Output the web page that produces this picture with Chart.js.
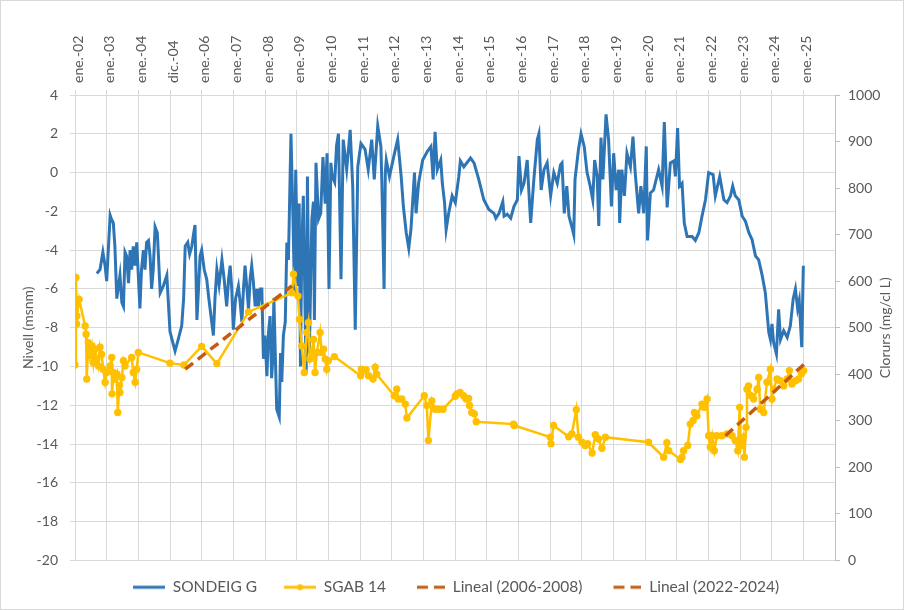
<!DOCTYPE html>
<html>
<head>
<meta charset="utf-8">
<script src="https://cdn.jsdelivr.net/npm/chart.js@4.4.1/dist/chart.umd.min.js"></script>
<style>
  body { margin: 0; background: #fff; }
  #wrap { width: 904px; height: 610px; }
</style>
</head>
<body>
<div id="wrap"><canvas id="nivells" width="904" height="610"></canvas></div>
<script>
// etiquetes de l'eix superior (una per any)
const tickYears = [2002, 2003, 2004, 2005, 2006, 2007, 2008, 2009, 2010, 2011, 2012, 2013,
  2014, 2015, 2016, 2017, 2018, 2019, 2020, 2021, 2022, 2023, 2024, 2025];
const tickLabels = ["ene.-02", "ene.-03", "ene.-04", "dic.-04", "ene.-06", "ene.-07", "ene.-08",
  "ene.-09", "ene.-10", "ene.-11", "ene.-12", "ene.-13", "ene.-14", "ene.-15", "ene.-16",
  "ene.-17", "ene.-18", "ene.-19", "ene.-20", "ene.-21", "ene.-22", "ene.-23", "ene.-24", "ene.-25"];

// SONDEIG G - nivell (msnm), data en anys decimals
const sondeigDates = [2002.69, 2002.79, 2002.88, 2002.95, 2003.00, 2003.11, 2003.15, 2003.21, 2003.26, 2003.32,
  2003.42, 2003.48, 2003.53, 2003.58, 2003.63, 2003.69, 2003.74, 2003.79, 2003.84, 2003.90,
  2003.95, 2004.02, 2004.05, 2004.10, 2004.16, 2004.21, 2004.26, 2004.32, 2004.37, 2004.42,
  2004.47, 2004.53, 2004.60, 2004.69, 2004.79, 2004.90, 2005.00, 2005.11, 2005.16, 2005.26,
  2005.37, 2005.43, 2005.48, 2005.56, 2005.62, 2005.69, 2005.74, 2005.79, 2005.85, 2005.90,
  2005.95, 2006.00, 2006.08, 2006.16, 2006.22, 2006.28, 2006.37, 2006.42, 2006.48, 2006.55,
  2006.64, 2006.71, 2006.79, 2006.85, 2006.90, 2006.95, 2007.00, 2007.07, 2007.16, 2007.21,
  2007.27, 2007.32, 2007.37, 2007.42, 2007.48, 2007.53, 2007.58, 2007.63, 2007.69, 2007.75,
  2007.79, 2007.85, 2007.90, 2007.95, 2008.00, 2008.06, 2008.11, 2008.16, 2008.21, 2008.25,
  2008.28, 2008.37, 2008.45, 2008.49, 2008.53, 2008.58, 2008.64, 2008.69, 2008.74, 2008.82,
  2008.88, 2008.93, 2008.97, 2009.04, 2009.08, 2009.12, 2009.16, 2009.21, 2009.27, 2009.30,
  2009.34, 2009.40, 2009.48, 2009.53, 2009.56, 2009.61, 2009.69, 2009.76, 2009.83, 2009.90,
  2009.96, 2010.02, 2010.08, 2010.12, 2010.20, 2010.26, 2010.32, 2010.40, 2010.47, 2010.54,
  2010.58, 2010.69, 2010.77, 2010.85, 2010.93, 2011.03, 2011.16, 2011.26, 2011.37, 2011.45,
  2011.56, 2011.66, 2011.69, 2011.76, 2011.80, 2011.83, 2011.93, 2012.09, 2012.19, 2012.30,
  2012.37, 2012.46, 2012.54, 2012.61, 2012.72, 2012.77, 2012.85, 2012.98, 2013.13, 2013.24,
  2013.31, 2013.37, 2013.44, 2013.55, 2013.60, 2013.67, 2013.72, 2013.80, 2013.91, 2014.01,
  2014.12, 2014.17, 2014.28, 2014.49, 2014.60, 2014.75, 2014.91, 2015.07, 2015.23, 2015.29,
  2015.39, 2015.51, 2015.55, 2015.65, 2015.76, 2015.86, 2015.97, 2016.02, 2016.10, 2016.18,
  2016.28, 2016.33, 2016.39, 2016.49, 2016.60, 2016.65, 2016.72, 2016.81, 2016.91, 2017.02,
  2017.12, 2017.23, 2017.33, 2017.38, 2017.45, 2017.53, 2017.60, 2017.69, 2017.75, 2017.79,
  2017.90, 2017.98, 2018.08, 2018.17, 2018.27, 2018.35, 2018.41, 2018.49, 2018.54, 2018.61,
  2018.67, 2018.77, 2018.85, 2018.94, 2019.01, 2019.09, 2019.17, 2019.20, 2019.27, 2019.35,
  2019.43, 2019.54, 2019.62, 2019.69, 2019.80, 2019.87, 2019.96, 2020.04, 2020.08, 2020.17,
  2020.27, 2020.43, 2020.54, 2020.61, 2020.70, 2020.80, 2020.91, 2020.96, 2021.03, 2021.09,
  2021.17, 2021.24, 2021.33, 2021.49, 2021.59, 2021.70, 2021.80, 2021.91, 2022.01, 2022.15,
  2022.22, 2022.36, 2022.49, 2022.59, 2022.70, 2022.77, 2022.85, 2022.96, 2023.07, 2023.17,
  2023.28, 2023.38, 2023.49, 2023.59, 2023.70, 2023.80, 2023.91, 2023.96, 2024.01, 2024.06,
  2024.15, 2024.22, 2024.28, 2024.38, 2024.49, 2024.59, 2024.68, 2024.75, 2024.82, 2024.87,
  2024.95, 2025.00];
const sondeigNivell = [-5.2, -5.0, -4.1, -4.8, -5.6, -2.2, -2.4, -2.6, -3.8, -6.5,
  -5.3, -6.7, -6.9, -4.1, -4.3, -5.7, -4.0, -5.0, -3.8, -4.8,
  -3.6, -6.0, -7.0, -5.0, -4.0, -5.0, -3.6, -3.5, -4.3, -6.0,
  -5.0, -2.8, -3.1, -6.2, -5.85, -5.3, -8.2, -8.9, -9.2, -8.6,
  -7.9, -6.5, -3.8, -3.6, -4.2, -3.8, -3.2, -2.7, -7.6, -6.0,
  -4.3, -4.0, -5.0, -5.5, -6.4, -7.2, -8.4, -6.5, -5.0, -5.8,
  -4.5, -5.5, -6.9, -5.5, -4.8, -6.0, -8.1, -6.5, -5.85, -6.6,
  -7.7, -6.0, -4.8, -5.8, -7.05, -5.5, -4.8, -5.6, -6.9, -6.0,
  -6.9, -6.0, -6.0, -9.6, -8.4, -10.5, -8.25, -7.4, -10.6, -9.45,
  -6.5, -12.2, -12.6, -9.3, -10.8, -8.4, -7.7, -3.6, -4.5, 2.0,
  -2.1, -6.2, 0.15, -5.85, -1.6, -10.0, -4.1, -1.2, -7.6, -10.3,
  -0.2, -9.3, -2.4, -1.5, -7.6, 0.5, -2.4, -2.1, 0.8, -1.6,
  1.0, -6.0, 0.5, -0.2, -0.5, 1.4, 2.0, -5.5, 1.7, 0.7,
  0.15, 2.2, -0.7, -8.1, 0.3, 1.5, 1.2, 0.15, 1.7, -0.35,
  2.4, 1.35, -0.5, -6.0, 0.0, 0.65, -0.2, 1.0, 1.7, -0.2,
  -1.75, -3.1, -3.9, -2.9, 0.0, -2.1, -0.55, 0.65, 1.1, 1.35,
  -0.35, 2.1, 0.15, 0.65, -0.55, -1.55, -2.95, -2.1, -1.2, -1.55,
  -0.2, 0.6, 0.3, 0.75, 0.5, -0.35, -1.4, -1.9, -2.1, -2.35,
  -2.1, -1.5, -2.25, -2.15, -2.35, -1.75, -1.4, 0.85, -0.9, -0.55,
  0.65, -0.9, -2.6, -0.35, 1.7, 2.0, -0.9, 0.15, 0.5, -1.2,
  0.0, -0.55, 0.4, 0.5, -2.1, -0.7, -2.25, -2.8, -3.2, -0.35,
  1.2, 2.0, 1.35, 0.0, -0.7, -1.4, 0.65, -0.2, -2.75, 1.8,
  -0.35, 3.0, 1.7, -1.75, 1.0, -0.9, 0.15, -2.6, 0.15, -1.2,
  1.0, 0.3, 1.85, 0.0, -2.1, -0.7, -2.1, 1.35, -3.5, -1.05,
  -0.9, 0.15, -0.7, 2.6, -1.8, 0.5, 0.6, -0.2, 2.3, -0.7,
  -0.55, -2.6, -3.3, -3.3, -3.5, -3.1, -2.25, -1.4, 0.0, -0.1,
  -1.2, -0.2, -1.4, -1.55, -1.2, -0.7, -1.2, -1.4, -2.25, -2.5,
  -3.1, -3.45, -4.3, -4.5, -5.3, -6.2, -8.25, -8.6, -7.8, -8.75,
  -9.35, -7.05, -8.6, -8.15, -8.5, -7.9, -6.5, -6.0, -7.0, -6.6,
  -9.0, -4.8];

// SGAB 14 - clorurs (mg/l)
const sgabDates = [2002.00, 2002.03, 2002.05, 2002.06, 2002.13, 2002.32, 2002.35, 2002.37, 2002.42, 2002.47,
  2002.53, 2002.58, 2002.63, 2002.69, 2002.74, 2002.79, 2002.84, 2002.89, 2002.95, 2003.00,
  2003.11, 2003.16, 2003.17, 2003.21, 2003.26, 2003.32, 2003.35, 2003.40, 2003.42, 2003.48,
  2003.53, 2003.58, 2003.79, 2003.84, 2003.90, 2003.95, 2004.00, 2005.00, 2005.44, 2006.00,
  2006.48, 2007.48, 2008.85, 2008.90, 2009.04, 2009.09, 2009.16, 2009.24, 2009.32, 2009.37,
  2009.42, 2009.48, 2009.53, 2009.58, 2009.64, 2009.74, 2009.79, 2009.85, 2009.90, 2009.95,
  2010.00, 2010.19, 2011.02, 2011.04, 2011.11, 2011.19, 2011.27, 2011.41, 2011.48, 2011.53,
  2012.08, 2012.16, 2012.21, 2012.32, 2012.43, 2012.48, 2013.03, 2013.11, 2013.16, 2013.27,
  2013.37, 2013.48, 2013.62, 2014.01, 2014.06, 2014.16, 2014.27, 2014.35, 2014.43, 2014.46,
  2014.53, 2014.61, 2014.67, 2015.85, 2015.87, 2017.01, 2017.03, 2017.11, 2017.59, 2017.69,
  2017.83, 2017.90, 2018.01, 2018.11, 2018.19, 2018.33, 2018.43, 2018.53, 2018.64, 2018.75,
  2020.11, 2020.59, 2020.69, 2020.75, 2021.12, 2021.17, 2021.22, 2021.35, 2021.43, 2021.52,
  2021.56, 2021.64, 2021.80, 2021.87, 2021.96, 2022.01, 2022.06, 2022.12, 2022.19, 2022.27,
  2022.43, 2022.59, 2022.75, 2022.85, 2022.93, 2022.99, 2023.03, 2023.10, 2023.14, 2023.19,
  2023.22, 2023.27, 2023.35, 2023.43, 2023.54, 2023.59, 2023.64, 2023.75, 2023.85, 2023.96,
  2024.01, 2024.06, 2024.17, 2024.27, 2024.38, 2024.49, 2024.56, 2024.64, 2024.75, 2024.85,
  2024.94, 2025.01];
const sgabClorurs = [420, 608, 508, 525, 561, 504, 486, 390, 468, 440,
  461, 425, 454, 433, 418, 458, 443, 411, 383, 404,
  418, 436, 358, 404, 390, 401, 318, 376, 361, 393,
  429, 418, 436, 404, 383, 411, 447, 424, 420, 460,
  423, 534, 575, 615, 568, 518, 461, 404, 490, 511,
  433, 447, 475, 404, 447, 490, 447, 454, 433, 411,
  429, 438, 397, 411, 408, 410, 397, 390, 415, 400,
  354, 368, 347, 347, 336, 306, 354, 333, 258, 343,
  325, 325, 325, 353, 358, 361, 354, 347, 348, 333,
  318, 315, 298, 293, 290, 265, 251, 290, 266, 272,
  324, 265, 254, 247, 251, 231, 270, 261, 241, 265,
  254, 222, 253, 236, 217, 222, 236, 247, 293, 301,
  318, 311, 336, 329, 347, 268, 244, 268, 236, 268,
  268, 272, 268, 258, 236, 329, 247, 265, 222, 286,
  368, 375, 354, 347, 368, 393, 325, 318, 383, 411,
  347, 368, 390, 386, 375, 390, 408, 379, 386, 390,
  401, 408];

// tendencies lineals (inici i final de cada recta)
const lineal1Dates = [2005.48, 2008.85];
const lineal1Values = [411, 590];
const lineal2Dates = [2022.54, 2025.03];
const lineal2Values = [268, 422];

const blau = "#2E75B6";
const groc = "#FFC000";
const taronja = "#C55A11";
const gris = "#595959";
const fontName = "Lato, 'Liberation Sans', sans-serif";

function toPoints(xs, ys) {
  return xs.map((x, i) => ({ x: x, y: ys[i] }));
}

// petites imatges per a la llegenda (linia, linia amb punt, guions)
function legendImage(kind, color) {
  const c = document.createElement("canvas");
  c.width = 40;
  c.height = 10;
  const g = c.getContext("2d");
  g.strokeStyle = color;
  g.fillStyle = color;
  g.lineWidth = 3;
  g.beginPath();
  if (kind === "dash") {
    g.moveTo(12, 5); g.lineTo(23, 5);
    g.moveTo(29, 5); g.lineTo(40, 5);
  } else {
    g.moveTo(8, 5); g.lineTo(40, 5);
  }
  g.stroke();
  if (kind === "dot") {
    g.beginPath();
    g.arc(24, 5, 3, 0, Math.PI * 2);
    g.fill();
  }
  return c;
}
const legendImgs = [legendImage("line", blau), legendImage("dot", groc),
  legendImage("dash", taronja), legendImage("dash", taronja)];

const extras = {
  id: "extras",
  afterDraw(chart) {
    const ctx = chart.ctx;
    const area = chart.chartArea;
    ctx.save();
    ctx.fillStyle = gris;
    ctx.font = "14px " + fontName;
    ctx.textAlign = "center";
    ctx.textBaseline = "middle";
    ctx.translate(chart.scales.y1.right - 19, (area.top + area.bottom) / 2);
    ctx.rotate(-Math.PI / 2);
    ctx.fillText("Clorurs (mg/cl L)", 0, 0);
    ctx.restore();
    ctx.save();
    ctx.strokeStyle = "#d9d9d9";
    ctx.lineWidth = 1;
    ctx.strokeRect(0.5, 0.5, chart.width - 1, chart.height - 1);
    ctx.restore();
  }
};

const ctx = document.getElementById("nivells").getContext("2d");
const chart = new Chart(ctx, {
  type: "line",
  data: {
    datasets: [
      {
        label: "SONDEIG G",
        data: toPoints(sondeigDates, sondeigNivell),
        yAxisID: "y",
        borderColor: blau,
        backgroundColor: blau,
        borderWidth: 3,
        pointRadius: 0,
        tension: 0,
        order: 4
      },
      {
        label: "SGAB 14",
        data: toPoints(sgabDates, sgabClorurs),
        yAxisID: "y1",
        borderColor: groc,
        backgroundColor: groc,
        borderWidth: 2.5,
        pointRadius: 3.7,
        pointBorderWidth: 0,
        pointBackgroundColor: groc,
        tension: 0,
        order: 3
      },
      {
        label: "Lineal (2006-2008)",
        data: toPoints(lineal1Dates, lineal1Values),
        yAxisID: "y1",
        borderColor: taronja,
        borderWidth: 3.5,
        borderDash: [10, 6],
        pointRadius: 0,
        order: 2
      },
      {
        label: "Lineal (2022-2024)",
        data: toPoints(lineal2Dates, lineal2Values),
        yAxisID: "y1",
        borderColor: taronja,
        borderWidth: 3.5,
        borderDash: [10, 6],
        pointRadius: 0,
        order: 1
      }
    ]
  },
  options: {
    responsive: false,
    animation: false,
    layout: { padding: { left: 0, right: 0, top: 0, bottom: 5 } },
    plugins: {
      tooltip: { enabled: false },
      legend: {
        position: "bottom",
        labels: {
          usePointStyle: true,
          pointStyleWidth: 40,
          boxWidth: 40,
          padding: 19,
          color: gris,
          font: { family: fontName, size: 15.5 },
          sort: (a, b) => a.datasetIndex - b.datasetIndex,
          generateLabels(chart) {
            const items = Chart.defaults.plugins.legend.labels.generateLabels(chart);
            items.forEach(it => { it.pointStyle = legendImgs[it.datasetIndex]; });
            return items;
          }
        }
      }
    },
    scales: {
      x: {
        type: "linear",
        position: "top",
        min: 2002,
        max: 2026,
        afterFit(scale) { scale.height = 95; },
        afterBuildTicks(scale) { scale.ticks = tickYears.map(v => ({ value: v })); },
        ticks: {
          autoSkip: false,
          minRotation: 90,
          maxRotation: 90,
          padding: 7,
          labelOffset: 20,
          color: gris,
          font: { family: fontName, size: 14 },
          callback: (v) => tickLabels[tickYears.indexOf(v)] || ""
        },
        grid: { color: "#d9d9d9", tickLength: 5 },
        border: { display: false }
      },
      y: {
        position: "left",
        min: -20,
        max: 4,
        afterFit(scale) { scale.width = 75; },
        ticks: { stepSize: 2, padding: 12, color: gris, font: { family: fontName, size: 14 } },
        grid: { color: "#d9d9d9", tickLength: 5 },
        border: { display: false },
        title: {
          display: true,
          text: "Nivell (msnm)",
          color: gris,
          font: { family: fontName, size: 14 },
          padding: { top: 20, bottom: 0 }
        }
      },
      y1: {
        position: "right",
        min: 0,
        max: 1000,
        afterFit(scale) { scale.width = 69; },
        ticks: {
          stepSize: 100,
          padding: 8,
          color: gris,
          font: { family: fontName, size: 14 },
          callback: (v) => String(v)
        },
        grid: { drawOnChartArea: false, color: "#bfbfbf", tickLength: 5 },
        border: { display: true, color: "#bfbfbf" }
      }
    }
  },
  plugins: [extras]
});
</script>
</body>
</html>
